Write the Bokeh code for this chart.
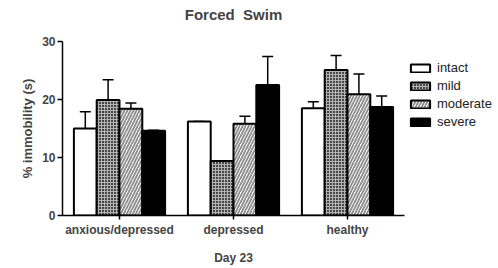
from bokeh.plotting import figure
from bokeh.models import ColumnDataSource, FactorRange, Range1d, Whisker, TeeHead, Legend, LegendItem, FixedTicker, Title
from bokeh.transform import dodge
from bokeh.embed import file_html
from bokeh.resources import INLINE

groups = ["anxious/depressed", "depressed", "healthy"]
series = ["intact", "mild", "moderate", "severe"]
intact = [15.0, 16.2, 18.5]
mild = [19.9, 9.4, 25.1]
moderate = [18.4, 15.8, 20.9]
severe = [14.6, 22.5, 18.7]
intact_err = [2.9, 0.0, 1.1]
mild_err = [3.5, 0.0, 2.5]
moderate_err = [1.0, 1.3, 3.5]
severe_err = [0.1, 4.9, 1.9]
y_ticks = [0, 10, 20, 30]

FONT = "Liberation Sans"

p = figure(x_range=FactorRange(*groups, range_padding=0), y_range=Range1d(0, 30),
           frame_width=342, frame_height=174, output_backend="svg", toolbar_location=None,
           min_border_left=62, min_border_right=90, min_border_top=41, min_border_bottom=51,
           title=None)

# spacer between title and frame, then the real title
p.add_layout(Title(text="\u00a0", text_font_size="1px", standoff=16), "above")
p.add_layout(Title(text="Forced\u00a0\u00a0Swim", align="center", text_font=FONT,
                   text_font_size="15px", text_font_style="bold", standoff=0), "above")

p.outline_line_color = None
p.xgrid.grid_line_color = None
p.ygrid.grid_line_color = None

vals = [intact, mild, moderate, severe]
errs = [intact_err, mild_err, moderate_err, severe_err]
offsets = [-0.3, -0.1, 0.1, 0.3]
styles = [
    dict(fill_color="white"),
    dict(fill_color="#474747", hatch_pattern="cross", hatch_color="#b4b4b4", hatch_scale=3, hatch_weight=1),
    dict(fill_color="white", hatch_pattern="right_diagonal_line", hatch_color="#8c8c8c", hatch_scale=6, hatch_weight=1.8),
    dict(fill_color="black"),
]
renderers = []
for name, v, e, off, st in zip(series, vals, errs, offsets, styles):
    both = name in ("mild", "moderate")
    src = ColumnDataSource(dict(cat=groups, val=v,
                                up=[a + b for a, b in zip(v, e)],
                                lo=[(a - b) if both else a for a, b in zip(v, e)]))
    r = p.vbar(x=dodge("cat", off, range=p.x_range), top="val", width=0.2, source=src,
               line_color="black", line_width=2, **st)
    renderers.append(r)
    w = Whisker(base=dodge("cat", off, range=p.x_range), upper="up", lower="lo", source=src,
                line_color="black", line_width=1.5,
                upper_head=TeeHead(size=11, line_color="black", line_width=1.5),
                lower_head=TeeHead(size=11, line_color="black", line_width=1.5) if both else None)
    p.add_layout(w)

legend = Legend(items=[LegendItem(label=n, renderers=[r]) for n, r in zip(series, renderers)],
                location="top_left", border_line_color=None, background_fill_alpha=0,
                glyph_width=24, glyph_height=10, label_height=15, spacing=3, padding=0,
                label_text_font=FONT, label_text_font_size="13px", label_text_color="#222222",
                label_standoff=5, margin=4,
                title="\u00a0", title_text_font_size="8px", title_standoff=6)
p.add_layout(legend, "right")

p.yaxis.ticker = FixedTicker(ticks=y_ticks)
p.yaxis.minor_tick_line_color = None
p.yaxis.major_tick_out = 5
p.yaxis.major_tick_in = 0
p.yaxis.major_label_text_font = FONT
p.yaxis.major_label_text_font_size = "12px"
p.yaxis.major_label_text_font_style = "bold"
p.yaxis.major_label_standoff = 2
p.yaxis.axis_label = "% immobility (s)"
p.yaxis.axis_label_text_font = FONT
p.yaxis.axis_label_text_font_size = "13px"
p.yaxis.axis_label_text_font_style = "bold"
p.yaxis.axis_label_standoff = 4

p.xaxis.major_tick_out = 4
p.xaxis.major_tick_in = 0
p.xaxis.major_label_text_font = FONT
p.xaxis.major_label_text_font_size = "12px"
p.xaxis.major_label_text_font_style = "bold"
p.xaxis.major_label_standoff = 3
p.xaxis.axis_label = "Day 23"
p.xaxis.axis_label_text_font = FONT
p.xaxis.axis_label_text_font_size = "12px"
p.xaxis.axis_label_text_font_style = "bold"
p.xaxis.axis_label_standoff = 11
for ax in (p.xaxis[0], p.yaxis[0]):
    ax.axis_line_width = 1.5
    ax.major_tick_line_width = 1.5

open("out.html", "w").write(file_html(p, INLINE))
